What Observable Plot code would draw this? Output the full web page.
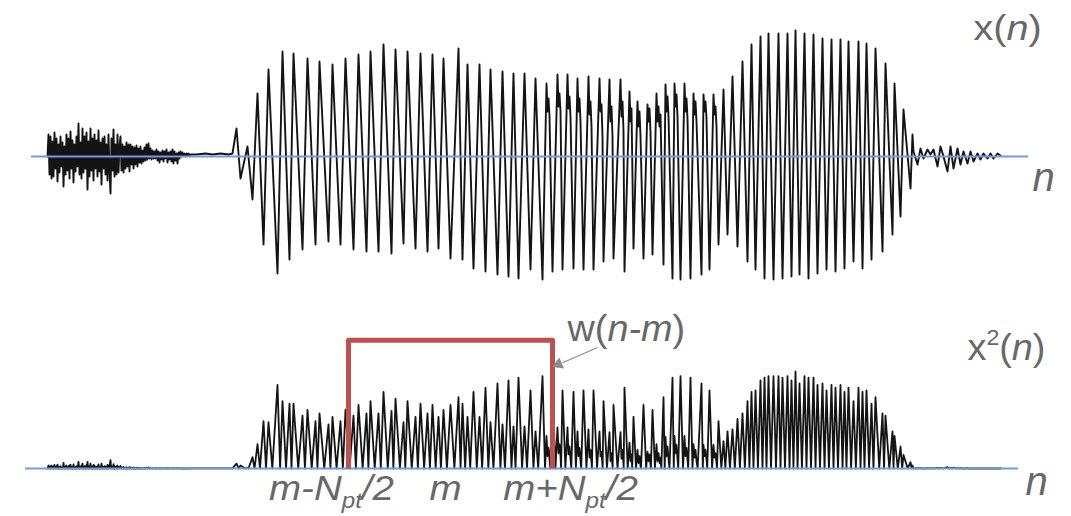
<!DOCTYPE html>
<html><head><meta charset="utf-8">
<script src="https://cdn.jsdelivr.net/npm/d3@7"></script>
<script src="https://cdn.jsdelivr.net/npm/@observablehq/plot@0.6"></script>
<style>
html,body{margin:0;padding:0;background:#fff;}
#chart{width:1071px;height:516px;overflow:hidden;position:relative;}
#chart svg{display:block;}
</style></head><body><div id="chart"></div>
<script>
// ---------- DATA (sample index n, amplitude a) ----------
// unvoiced onset noise, one value per sample starting at n = noiseStart
const noiseStart = 47;
const onsetNoise = [0,22,-18,20,-22,15,-20,24,-12,18,-25,12,-16,20,-10,14,-30,10,-18,22,-14,18,-22,25,-12,16,-26,12,-15,20,-10,33,-18,14,-22,28,-16,20,-12,24,-33,15,-20,28,-14,18,-24,22,-12,16,-20,26,-15,14,-28,18,-12,20,-18,12,-24,22,-15,-37,18,-14,27,-20,12,-18,22,-16,10,20,-14,12,-16,10,-12,14,-10,12,-15,12,-8,10,-12,9,-8,11,-10,8,-6,10,-7,6,-5,9,-4,12,-3,13,-2,8,-3,6,-2,5,-2,7,-4,5,-6,4,-3,6,-5,5,-2,7,-6,4,-3,5,-5,7,-7,5,-4,3,-7,4,-2,5,0,4,1,3,0,3,1,3,1,2];

// voiced part: successive peaks / troughs (and wiggles)
const voicedN = [196,205,212,220,228,232,236,240,247,252,257,263,268,277,282,289,293,302,307,315,319,328,332,340,345,353,358,366,370,378,383,391,395,403,407,415,420,427,432,438,443,450,458,462,467,473,479,485,490,497,502,508,513,518,524,530,535,542,546,547,548,549,552,557,558,559,560,562,567,568,569,570,573,577,578,579,580,583,588,589,590,591,593,599,600,601,602,603,609,610,611,612,613,620,621,622,623,624,629,630,631,633,637,638,639,640,643,647,648,649,650,652,656,657,658,659,660,663,665,666,667,668,672,674,675,676,677,680,684,685,686,687,690,693,694,695,696,701,703,704,705,706,709,713,714,715,716,718,723,727,732,737,742,747,751,755,760,764,768,773,778,782,787,791,795,799,804,808,813,817,822,826,831,835,840,844,848,853,858,862,866,871,875,882,885,892,894,900,903,910,912];
const voicedA = [2,3,2,3,2,3,28,-22,10,-43,63,-88,87,-117,105,-103,103,-93,98,-88,95,-85,92,-88,98,-93,102,-95,105,-95,112,-97,107,-87,105,-92,103,-95,102,-92,98,-102,108,-103,92,-112,92,-115,87,-118,85,-120,83,-122,83,-113,78,-123,73,45,58,40,-115,82,50,63,45,-113,82,48,60,40,-112,78,45,58,35,-113,80,42,55,30,-113,78,45,52,20,-105,77,35,50,20,-102,77,40,55,25,-115,65,35,48,-92,55,30,45,20,-102,52,35,48,25,-98,63,35,50,30,42,-108,72,45,60,40,-122,73,50,62,40,-123,73,45,58,38,-122,63,42,55,35,-118,62,45,55,38,-113,62,42,50,30,-88,67,-78,80,-90,95,-105,112,-113,120,-122,123,-123,123,-122,123,-120,126,-118,123,-122,122,-117,118,-113,117,-115,117,-112,115,-105,115,-112,113,-103,108,-95,93,-78,73,-60,47,-32,22];

// decaying tail after voicing
const tailN = [913,917,920,923,927,930,933,937,940,943,947,950,953,957,960,963,967,970,973,977,980,983,987,990,993,997,1000];
const tailA = [5,-8,8,-2,7,2,7,-10,10,0,-15,10,-12,8,-8,5,-7,5,-5,3,-3,3,-2,3,-2,3,1];

// analysis window w(n-m)
const windowStart = 348, windowEnd = 552, windowLevel = 210;
// baseline extents (sample index)
const topAxisExtent = [31, 1028];
const bottomAxisExtent = [25, 1018];

// ---------- BUILD TABLES ----------
const signal = [];
onsetNoise.forEach((a, i) => signal.push({n: noiseStart + i, a}));
voicedN.forEach((n, i) => signal.push({n, a: voicedA[i]}));
tailN.forEach((n, i) => signal.push({n, a: tailA[i]}));

// x^2(n): square of the same polyline (zero crossings kept so the square returns to 0)
const energy = [];
for (let i = 0; i < signal.length; i++) {
  const p = signal[i];
  energy.push({n: p.n, e: p.a * p.a / 100});
  const q = signal[i + 1];
  if (q && p.a * q.a < 0) {
    const t = p.a / (p.a - q.a);
    energy.push({n: p.n + t * (q.n - p.n), e: 0});
  }
}
const windowShape = [
  {n: windowStart, e: 0}, {n: windowStart, e: windowLevel},
  {n: windowEnd, e: windowLevel}, {n: windowEnd, e: 0}
];

const ink = "#141414", axisBlue = "#6d9ee0", labelGray = "#686868", red = "#c0504d";
const font = "Liberation Sans, Arial, sans-serif";

const topPlot = Plot.plot({
  width: 1071, height: 300, margin: 0,
  x: {domain: [0, 1071], axis: null},
  y: {domain: [-144, 156], axis: null},
  style: {background: "transparent", overflow: "visible"},
  marks: [
    Plot.line(signal, {x: "n", y: "a", stroke: ink, strokeWidth: 1.9}),
    Plot.ruleY([0], {x1: topAxisExtent[0], x2: topAxisExtent[1], stroke: axisBlue, strokeWidth: 1.8}),
    Plot.text([{t: "x(n)", n: 973, a: 117}], {x: "n", y: "a", text: "t", textAnchor: "start", lineAnchor: "bottom", fontSize: 36, fontFamily: font, fill: labelGray}),
    Plot.text([{t: "n", n: 1032, a: -34}], {x: "n", y: "a", text: "t", textAnchor: "start", lineAnchor: "bottom", fontSize: 40, fontStyle: "italic", fontFamily: font, fill: labelGray})
  ]
});

const bottomPlot = Plot.plot({
  width: 1071, height: 216, margin: 0,
  x: {domain: [0, 1071], axis: null},
  y: {domain: [-78.6, 275], axis: null},
  style: {background: "transparent", overflow: "visible"},
  marks: [
    Plot.line(energy, {x: "n", y: "e", stroke: ink, strokeWidth: 1.8}),
    Plot.ruleY([0], {x1: bottomAxisExtent[0], x2: bottomAxisExtent[1], stroke: axisBlue, strokeWidth: 1.8}),
    Plot.line(windowShape, {x: "n", y: "e", stroke: red, strokeWidth: 5, strokeLinejoin: "round", strokeLinecap: "butt"}),
    Plot.link([{x1: 597, y1: 198, x2: 562, y2: 173}], {x1: "x1", y1: "y1", x2: "x2", y2: "y2", stroke: "#8c8c8c", strokeWidth: 1.2}),
    Plot.dot([{n: 558, e: 170.5}], {x: "n", y: "e", symbol: "triangle", r: 4.5, rotate: 247, fill: "#8c8c8c", stroke: "none"}),
    Plot.text([{t: "w(n-m)", n: 567, e: 208}], {x: "n", y: "e", text: "t", textAnchor: "start", lineAnchor: "bottom", fontSize: 36, fontFamily: font, fill: labelGray}),
    Plot.text([{t: "x2(n)", n: 967, e: 177}], {x: "n", y: "e", text: "t", textAnchor: "start", lineAnchor: "bottom", fontSize: 36, fontFamily: font, fill: labelGray}),
    Plot.text([{t: "n", n: 1025, e: -44}], {x: "n", y: "e", text: "t", textAnchor: "start", lineAnchor: "bottom", fontSize: 40, fontStyle: "italic", fontFamily: font, fill: labelGray}),
    Plot.text([{t: "m-Npt/2", n: 331, e: -52}, {t: "m", n: 445, e: -52}, {t: "m+Npt/2", n: 570, e: -52}],
      {x: "n", y: "e", text: "t", textAnchor: "middle", lineAnchor: "bottom", fontSize: 35, fontStyle: "italic", fontFamily: font, fill: labelGray})
  ]
});

// rich text (italic, super/subscripts) and the slightly wide lettering of the original
const markup = {
  "x(n)": ['x(<tspan font-style="italic">n</tspan>)', 1.1],
  "x2(n)": ['x<tspan dy="-15" font-size="22">2</tspan><tspan dy="15">(</tspan><tspan font-style="italic">n</tspan>)', 1.05],
  "w(n-m)": ['w(<tspan font-style="italic">n-m</tspan>)', 1.05],
  "m-Npt/2": ['m-N<tspan dy="8" font-size="22">pt</tspan><tspan dy="-8">/2</tspan>', 1.1],
  "m+Npt/2": ['m+N<tspan dy="8" font-size="22">pt</tspan><tspan dy="-8">/2</tspan>', 1.1],
  "m": ['m', 1.1],
  "n": ['n', 1.0]
};
for (const svg of [topPlot, bottomPlot]) {
  svg.querySelectorAll("text").forEach(el => {
    const k = el.textContent;
    if (markup[k]) {
      el.innerHTML = markup[k][0];
      const tr = el.getAttribute("transform") || "";
      el.setAttribute("transform", `${tr} scale(${markup[k][1]},1)`);
    }
  });
}
const host = document.getElementById("chart");
host.appendChild(topPlot);
host.appendChild(bottomPlot);
</script></body></html>
